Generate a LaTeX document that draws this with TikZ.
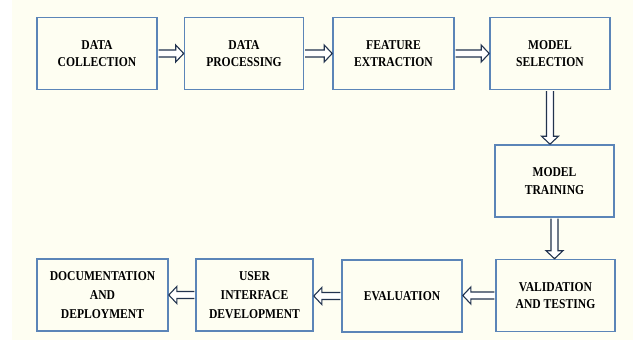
\documentclass[tikz,border=0pt]{standalone}
\usepackage{fontspec}
\setmainfont[FakeStretch=0.86]{Liberation Serif}
\usetikzlibrary{calc}

\definecolor{paper}{HTML}{FEFEF2}
\definecolor{boxline}{HTML}{5B85B8}
\definecolor{arrowline}{HTML}{22334F}

% hollow block arrow from #1 to #2
\newcommand{\blockarrow}[2]{%
	\path[fill=white, draw=arrowline, line width=1.1pt, line join=miter]
		let \p1=(#1), \p2=(#2), \n1={veclen(\x2-\x1,\y2-\y1)}, \n2={atan2(\y2-\y1,\x2-\x1)} in
		[shift={(\p1)}, rotate=\n2]
		(0.8pt,-3.5pt) -- ({\n1-8pt},-3.5pt) -- ({\n1-8pt},-8.5pt) -- (\n1,0pt)
		-- ({\n1-8pt},8.5pt) -- ({\n1-8pt},3.5pt) -- (0.8pt,3.5pt);
}

\begin{document}
\begin{tikzpicture}[x=1pt, y=-1pt,
	stage/.style={draw=boxline, line width=1.6pt, fill=paper, minimum height=72pt,
		align=center, inner sep=2pt, font=\bfseries\fontsize{13.5}{17.5}\selectfont},
	tall/.style={font=\bfseries\fontsize{13.5}{19}\selectfont}]
	\useasboundingbox (0,0) rectangle (633,340);
	\fill[white] (0,0) rectangle (633,340);
	\fill[paper] (12,0) rectangle (633,340);

	\node[stage, minimum width=120pt] (collection) at (97,53.5) {DATA\\COLLECTION};
	\node[stage, minimum width=119pt] (processing) at (244,53.5) {DATA\\PROCESSING};
	\node[stage, minimum width=121pt] (extraction) at (393.5,53.5) {FEATURE\\EXTRACTION};
	\node[stage, minimum width=120pt] (selection) at (550,53.5) {MODEL\\SELECTION};
	\node[stage, minimum width=119pt] (training) at (554.5,181) {MODEL\\TRAINING};
	\node[stage, minimum width=119pt] (validation) at (555.5,295.5) {VALIDATION\\AND TESTING};
	\node[stage, minimum width=120pt] (evaluation) at (402,296) {EVALUATION};
	\node[stage, tall, minimum width=117pt] (interface) at (254.5,295) {USER\\INTERFACE\\DEVELOPMENT};
	\node[stage, tall, minimum width=131pt] (deployment) at (102.5,295) {DOCUMENTATION\\AND\\DEPLOYMENT};

	\blockarrow{collection.east}{collection.east -| processing.west}
	\blockarrow{processing.east}{processing.east -| extraction.west}
	\blockarrow{extraction.east}{extraction.east -| selection.west}
	\blockarrow{selection.south}{selection.south |- training.north}
	\blockarrow{training.south}{training.south |- validation.north}
	\blockarrow{validation.west}{validation.west -| evaluation.east}
	\blockarrow{evaluation.west}{evaluation.west -| interface.east}
	\blockarrow{interface.west}{interface.west -| deployment.east}
\end{tikzpicture}
\end{document}
